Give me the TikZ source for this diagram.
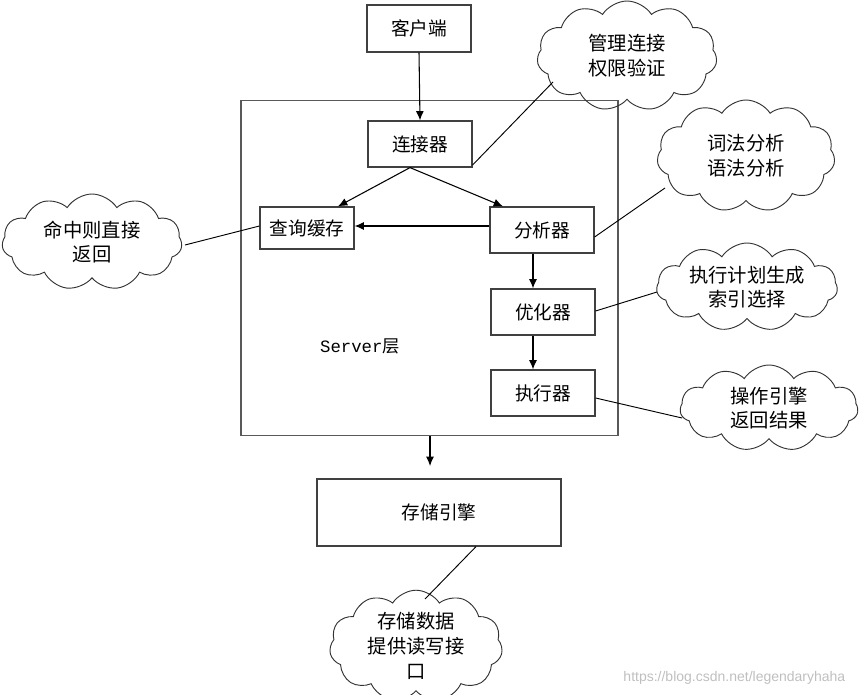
\documentclass[tikz,border=0pt]{standalone}
\usepackage{fontspec}
\setmainfont{Noto Sans CJK SC}
\newfontfamily\monofont{Liberation Mono}
\newfontfamily\wmfont{Liberation Sans}
\usetikzlibrary{shapes.symbols,arrows.meta}
\begin{document}
\begin{tikzpicture}[x=0.75pt,y=-0.75pt,
  box/.style={draw=black!75,line width=0.9pt,inner sep=0pt,font=\fontsize{14pt}{16pt}\selectfont},
  puff/.style={cloud,cloud puffs=11,cloud puff arc=115,cloud ignores aspect,draw=black!80,line width=0.7pt,
     align=center,inner sep=0pt,font=\fontsize{14.5pt}{18.5pt}\selectfont},
  arr/.style={-{Latex[length=7pt,width=6pt]},line width=0.8pt},
  link/.style={line width=0.7pt}]
\useasboundingbox (0,0) rectangle (860,695);
% outer server rect
\node[draw=black!65,line width=1pt,minimum width=377*0.75pt,minimum height=335*0.75pt,inner sep=0pt] (srv) at (429.5,268) {};
\node[font=\fontsize{13pt}{15pt}\selectfont] (srvlbl) at (360,346) {{\monofont Server}层};

\node[box,minimum width=104*0.75pt,minimum height=47*0.75pt] (client) at (419,28.5) {客户端};
\node[box,minimum width=104*0.75pt,minimum height=46*0.75pt] (conn) at (420,144) {连接器};
\node[box,minimum width=94*0.75pt,minimum height=42*0.75pt] (cache) at (307,228) {查询缓存};
\node[box,minimum width=104*0.75pt,minimum height=46*0.75pt] (ana) at (542,230) {分析器};
\node[box,minimum width=104*0.75pt,minimum height=46*0.75pt] (opt) at (543,312) {优化器};
\node[box,minimum width=104*0.75pt,minimum height=46*0.75pt] (exe) at (543,393) {执行器};
\node[box,minimum width=244*0.75pt,minimum height=67*0.75pt] (store) at (439,512.5) {存储引擎};

% arrows
\draw[arr] (client.south) -- (conn.north);
\draw[arr] (conn.south -| 410,0) -- (cache.north -| 338,0);
\draw[arr] (conn.south -| 410,0) -- (ana.north -| 503,0);
\draw[arr] (ana.west |- 0,226) -- (cache.east |- 0,226);
\draw[arr] (ana.south -| 533,0) -- (opt.north -| 533,0);
\draw[arr] (opt.south -| 533,0) -- (exe.north -| 533,0);
\coordinate (sb) at (430,466);
\draw[arr] (srv.south -| 430,0) -- (sb);

% clouds
\node[puff,minimum width=180*0.75pt,minimum height=110*0.75pt] (c1) at (627,56) {管理连接\\权限验证};
\node[puff,minimum width=178*0.75pt,minimum height=112*0.75pt] (c2) at (746,156) {词法分析\\语法分析};
\node[puff,minimum width=180*0.75pt,minimum height=96*0.75pt] (c3) at (92,242) {命中则直接\\返回};
\node[puff,minimum width=181*0.75pt,minimum height=88*0.75pt] (c4) at (747,287) {执行计划生成\\索引选择};
\node[puff,minimum width=178*0.75pt,minimum height=86*0.75pt] (c5) at (769,408) {操作引擎\\返回结果};
\node[puff,minimum width=173*0.75pt,minimum height=96*0.75pt] (c6) at (416,646) {存储数据\\提供读写接\\口};

% links
\draw[link] (conn.east |- 0,165) -- (553,82);
\draw[link] (ana.east |- 0,237) -- (665,188);
\draw[link] (cache.west |- 0,226) -- (185,245);
\draw[link] (opt.east |- 0,311) -- (657,292);
\draw[link] (exe.east |- 0,398) -- (682,418);
\draw[link] (store.south -| 476,0) -- (425,599);

\node[text=black!25,font=\fontsize{10.5pt}{12pt}\wmfont,anchor=east] (wm) at (850,678) {https://blog.csdn.net/legendaryhaha};
\end{tikzpicture}
\end{document}
